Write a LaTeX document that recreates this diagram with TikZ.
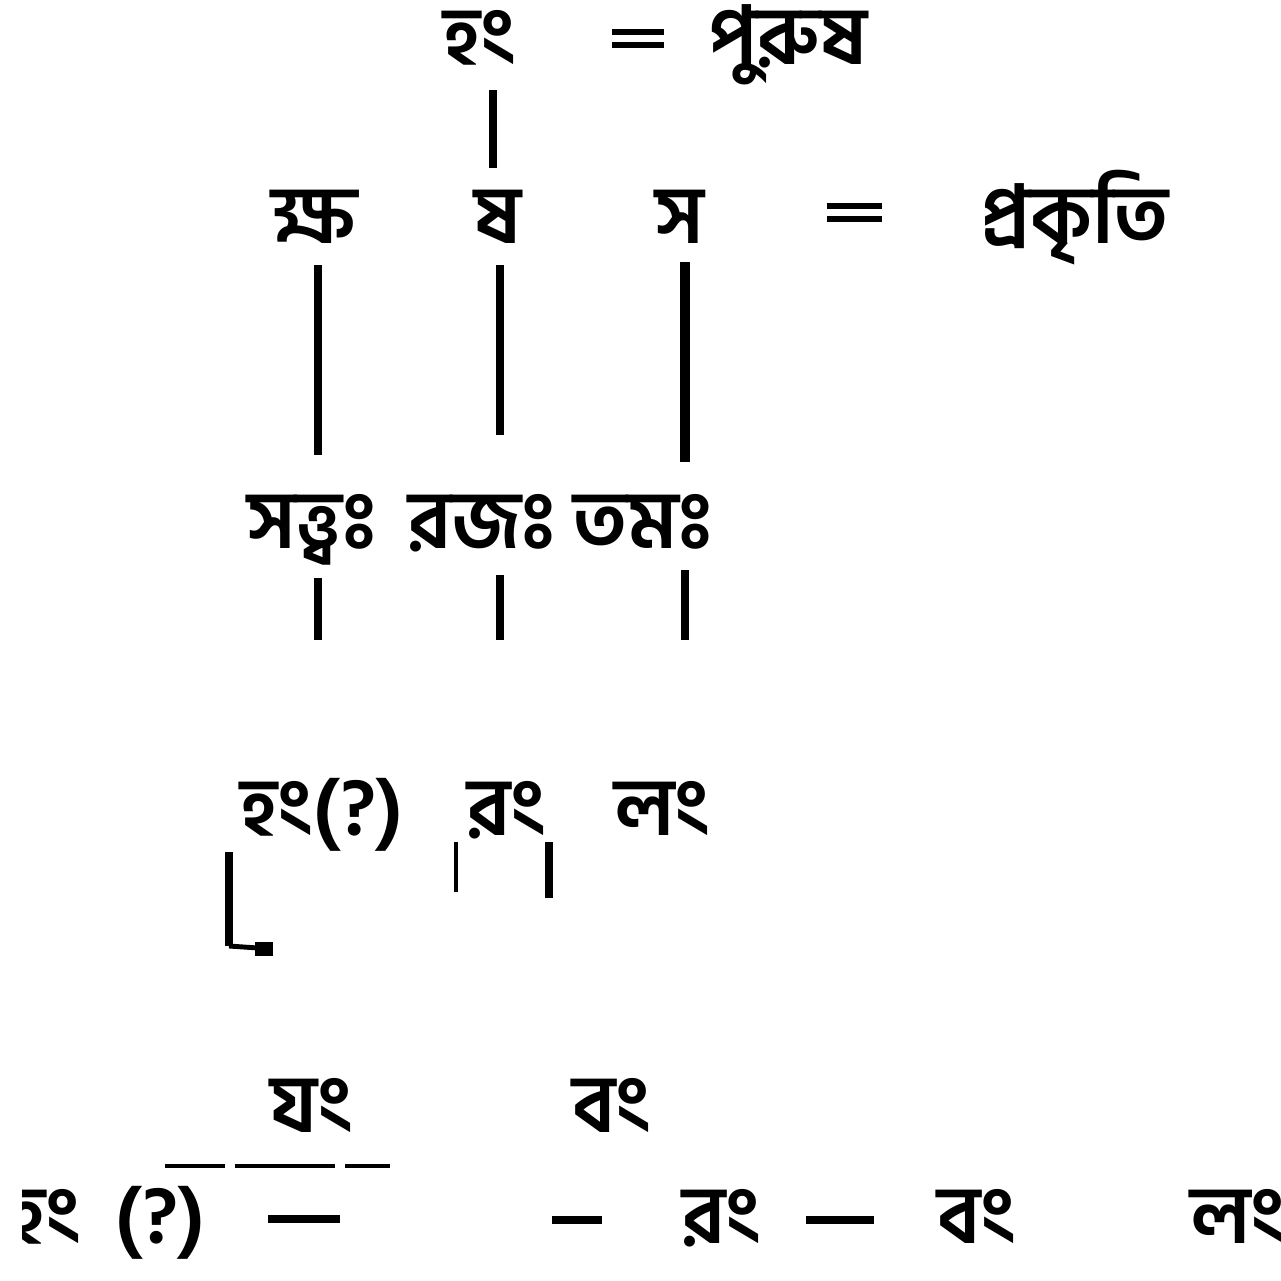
\documentclass[tikz,border=0pt]{standalone}
\usepackage{fontspec}
\newfontfamily\bn[Script=Bengali]{Hind Siliguri}
\begin{document}
\begin{tikzpicture}[x=0.01cm,y=-0.01cm,
  txt/.style={font=\bn\fontsize{23}{26}\selectfont\bfseries, inner sep=0pt, anchor=base},
  eqbar/.style={line width=1.5pt},
  ln/.style={line width=2.2pt},
  thin/.style={line width=1.4pt},
  dashln/.style={line width=2.2pt}]
\useasboundingbox (0,0) rectangle (1281,1281);
\clip (0,0) rectangle (1281,1281);
% row 1
\node[txt] (hang) at (480,64) {হং};
\node[txt] (purush) at (788,64) {পুরুষ};
% row 2
\node[txt] (ksha) at (315,243) {ক্ষ};
\node[txt] (sha) at (498,243) {ষ};
\node[txt] (sa) at (680,243) {স};
\node[txt] (prakriti) at (1075,243) {প্রকৃতি};
% row 3
\node[txt] (sattva) at (312,548) {সত্ত্বঃ};
\node[txt] (rajas) at (482,548) {রজঃ};
\node[txt] (tamas) at (643,548) {তমঃ};
% row 4
\node[txt] (hangq) at (322,835) {হং(?)};
\node[txt] (rang) at (507,835) {রং};
\node[txt] (lang) at (662,835) {লং};
% row 5
\node[txt] (yang) at (312,1132) {যং};
\node[txt] (vang) at (612,1132) {বং};
% row 6
\begin{scope}
\clip (22,1150) rectangle (110,1281);
\node[txt, anchor=base east] (hangb) at (82,1243) {হং};
\end{scope}
\node[txt] (q) at (160,1243) {(?)};
\node[txt] (rangb) at (722,1243) {রং};
\node[txt] (vangb) at (977,1243) {বং};
\node[txt] (langb) at (1238,1243) {লং};
% equals signs (drawn as two short bars)
\coordinate (e1a) at (612,32); \coordinate (e1b) at (664,32);
\coordinate (e1c) at (612,45); \coordinate (e1d) at (664,45);
\coordinate (e2a) at (827,206); \coordinate (e2b) at (882,206);
\coordinate (e2c) at (827,219); \coordinate (e2d) at (882,219);
\draw[eqbar] (e1a) -- (e1b); \draw[eqbar] (e1c) -- (e1d);
\draw[eqbar] (e2a) -- (e2b); \draw[eqbar] (e2c) -- (e2d);
% coordinates for connectors
\coordinate (a0) at (493,90);  \coordinate (b0) at (493,168);
\coordinate (a1) at (318,265); \coordinate (b1) at (318,455);
\coordinate (a2) at (500,265); \coordinate (b2) at (500,435);
\coordinate (a3) at (685,262); \coordinate (b3) at (685,462);
\coordinate (a4) at (318,578); \coordinate (b4) at (318,640);
\coordinate (a5) at (500,575); \coordinate (b5) at (500,640);
\coordinate (a6) at (685,570); \coordinate (b6) at (685,640);
\coordinate (a7) at (456,842); \coordinate (b7) at (456,892);
\coordinate (a8) at (549,842); \coordinate (b8) at (549,898);
\coordinate (la) at (229,852); \coordinate (lb) at (229,946); \coordinate (lc) at (258,948);
\coordinate (d1a) at (268,1219); \coordinate (d1b) at (340,1219);
\coordinate (d2a) at (552,1220); \coordinate (d2b) at (602,1220);
\coordinate (d3a) at (806,1220); \coordinate (d3b) at (874,1220);
% lines
\draw[ln] (a0) -- (b0);
\draw[ln] (a1) -- (b1);
\draw[ln] (a2) -- (b2);
\draw[line width=3pt] (a3) -- (b3);
\draw[ln] (a4) -- (b4);
\draw[ln] (a5) -- (b5);
\draw[ln] (a6) -- (b6);
\draw[thin] (a7) -- (b7);
\draw[ln] (a8) -- (b8);
\draw[ln] (la) -- (lb);
\draw[thin] (lb) -- (lc);
\fill (255,942) rectangle (273,956);
% overline
\draw[thin] (165,1166) -- (225,1166);
\draw[thin] (235,1166) -- (335,1166);
\draw[thin] (345,1166) -- (390,1166);
% dashes
\draw[dashln] (d1a) -- (d1b);
\draw[dashln] (d2a) -- (d2b);
\draw[dashln] (d3a) -- (d3b);
\end{tikzpicture}
\end{document}
